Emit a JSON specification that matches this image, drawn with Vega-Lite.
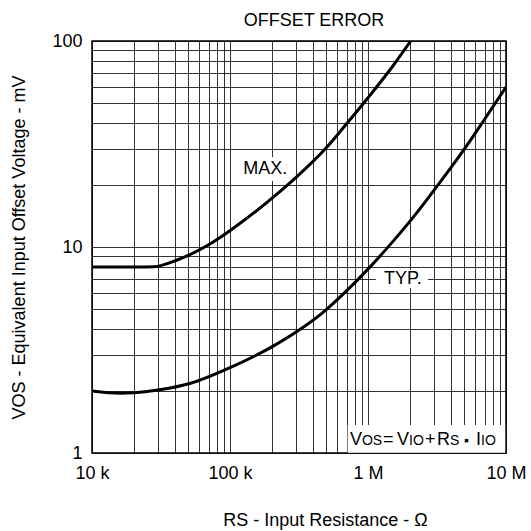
{
  "$schema": "https://vega.github.io/schema/vega-lite/v6.json",
  "width": 414,
  "height": 412,
  "autosize": "none",
  "padding": {"left": 92, "top": 41, "right": 25, "bottom": 78},
  "background": "white",
  "config": {
    "font": "Liberation Sans",
    "view": {"stroke": "#000", "strokeWidth": 1.5},
    "axis": {
      "grid": true,
      "gridColor": "#000",
      "gridOpacity": 0.8,
      "gridWidth": 1,
      "ticks": false,
      "domain": false,
      "labelColor": "#000",
      "labelFontSize": 18,
      "labelOverlap": false,
      "labelFlush": false,
      "titleColor": "#000",
      "titleFontSize": 18,
      "titleFontWeight": "normal"
    }
  },
  "title": {
    "text": "OFFSET ERROR",
    "fontSize": 18,
    "fontWeight": "normal",
    "color": "#000",
    "frame": "group",
    "anchor": "middle",
    "baseline": "alphabetic",
    "offset": -12,
    "dx": 15
  },
  "datasets": {
    "curves": [
      {"curve": "MAX", "rs": 10000, "v": 8.0},
      {"curve": "MAX", "rs": 20000, "v": 8.0},
      {"curve": "MAX", "rs": 28000, "v": 8.02},
      {"curve": "MAX", "rs": 41400, "v": 8.65},
      {"curve": "MAX", "rs": 72600, "v": 10.4},
      {"curve": "MAX", "rs": 127000, "v": 13.5},
      {"curve": "MAX", "rs": 222000, "v": 18.2},
      {"curve": "MAX", "rs": 311000, "v": 22.2},
      {"curve": "MAX", "rs": 487000, "v": 29.8},
      {"curve": "MAX", "rs": 664000, "v": 38.0},
      {"curve": "MAX", "rs": 1000000, "v": 53.0},
      {"curve": "MAX", "rs": 1500000, "v": 75.0},
      {"curve": "MAX", "rs": 2040000, "v": 100.0},
      {"curve": "TYP", "rs": 10000, "v": 2.0},
      {"curve": "TYP", "rs": 16000, "v": 1.95},
      {"curve": "TYP", "rs": 20000, "v": 1.96},
      {"curve": "TYP", "rs": 30000, "v": 2.02},
      {"curve": "TYP", "rs": 51900, "v": 2.18},
      {"curve": "TYP", "rs": 102000, "v": 2.61},
      {"curve": "TYP", "rs": 210000, "v": 3.33},
      {"curve": "TYP", "rs": 311000, "v": 3.92},
      {"curve": "TYP", "rs": 487000, "v": 4.9},
      {"curve": "TYP", "rs": 681000, "v": 6.02},
      {"curve": "TYP", "rs": 1040000, "v": 8.03},
      {"curve": "TYP", "rs": 1490000, "v": 10.5},
      {"curve": "TYP", "rs": 2210000, "v": 14.4},
      {"curve": "TYP", "rs": 3270000, "v": 20.3},
      {"curve": "TYP", "rs": 5410000, "v": 32.3},
      {"curve": "TYP", "rs": 7000000, "v": 41.7},
      {"curve": "TYP", "rs": 10000000, "v": 59.8}
    ],
    "boxes": [
      {"rs": 114000, "rs2": 281000, "v": 20.9, "v2": 27.3},
      {"rs": 1140000, "rs2": 2720000, "v": 6.33, "v2": 7.74},
      {"rs": 712000, "rs2": 9850000, "v": 1.004, "v2": 1.367}
    ],
    "labels": [
      {"label": "MAX.", "rs": 180000, "v": 23.9},
      {"label": "TYP.", "rs": 1790000, "v": 7.0}
    ],
    "formulaBig": [
      {"t": "V", "rs": 741000, "v": 1.0935},
      {"t": "=", "rs": 1284000, "v": 1.0935},
      {"t": "V", "rs": 1622000, "v": 1.0935},
      {"t": "+", "rs": 2588000, "v": 1.0935},
      {"t": "R", "rs": 3162000, "v": 1.0935},
      {"t": "I", "rs": 6062000, "v": 1.0935}
    ],
    "formulaSmall": [
      {"t": "OS", "rs": 904500, "v": 1.0935},
      {"t": "IO", "rs": 1982000, "v": 1.0935},
      {"t": "S", "rs": 3929000, "v": 1.0935},
      {"t": "▪", "rs": 4963000, "v": 1.0935},
      {"t": "IO", "rs": 6590000, "v": 1.0935}
    ]
  },
  "layer": [
    {
      "data": {"name": "boxes"},
      "mark": {"type": "rect", "fill": "white", "stroke": null},
      "encoding": {
        "x": {
          "field": "rs", "type": "quantitative",
          "scale": {"type": "log", "domain": [10000, 10000000], "nice": false},
          "axis": {
            "values": [10000, 20000, 30000, 40000, 50000, 60000, 70000, 80000, 90000, 100000, 200000, 300000, 400000, 500000, 600000, 700000, 800000, 900000, 1000000, 2000000, 3000000, 4000000, 5000000, 6000000, 7000000, 8000000, 9000000, 10000000],
            "labelExpr": "datum.value == 10000 ? '10 k' : datum.value == 100000 ? '100 k' : datum.value == 1000000 ? '1 M' : datum.value == 10000000 ? '10 M' : ''",
            "labelPadding": 11,
            "title": "RS - Input Resistance - Ω",
            "titleX": 233,
            "titleY": 72,
            "titleAlign": "center",
            "titleBaseline": "alphabetic"
          }
        },
        "x2": {"field": "rs2"},
        "y": {
          "field": "v", "type": "quantitative",
          "scale": {"type": "log", "domain": [1, 100], "nice": false},
          "axis": {
            "values": [1, 2, 3, 4, 5, 6, 7, 8, 9, 10, 20, 30, 40, 50, 60, 70, 80, 90, 100],
            "labelExpr": "datum.value == 1 ? '1' : datum.value == 10 ? '10' : datum.value == 100 ? '100' : ''",
            "labelPadding": 10,
            "title": "VOS - Equivalent Input Offset Voltage - mV",
            "titleX": -68,
            "titleY": 206,
            "titleAlign": "center",
            "titleBaseline": "alphabetic",
            "titleAngle": -90
          }
        },
        "y2": {"field": "v2"}
      }
    },
    {
      "data": {"name": "curves"},
      "mark": {"type": "line", "color": "#000", "strokeWidth": 3, "interpolate": "monotone", "clip": true},
      "encoding": {
        "x": {"field": "rs", "type": "quantitative"},
        "y": {"field": "v", "type": "quantitative"},
        "detail": {"field": "curve"}
      }
    },
    {
      "data": {"name": "labels"},
      "mark": {"type": "text", "fontSize": 18, "color": "#000", "align": "center", "baseline": "middle"},
      "encoding": {
        "x": {"field": "rs", "type": "quantitative"},
        "y": {"field": "v", "type": "quantitative"},
        "text": {"field": "label"}
      }
    },
    {
      "data": {"name": "formulaBig"},
      "mark": {"type": "text", "fontSize": 18, "color": "#000", "align": "left", "baseline": "alphabetic"},
      "encoding": {
        "x": {"field": "rs", "type": "quantitative"},
        "y": {"field": "v", "type": "quantitative"},
        "text": {"field": "t"}
      }
    },
    {
      "data": {"name": "formulaSmall"},
      "mark": {"type": "text", "fontSize": 14, "color": "#000", "align": "left", "baseline": "alphabetic"},
      "encoding": {
        "x": {"field": "rs", "type": "quantitative"},
        "y": {"field": "v", "type": "quantitative"},
        "text": {"field": "t"}
      }
    }
  ]
}
